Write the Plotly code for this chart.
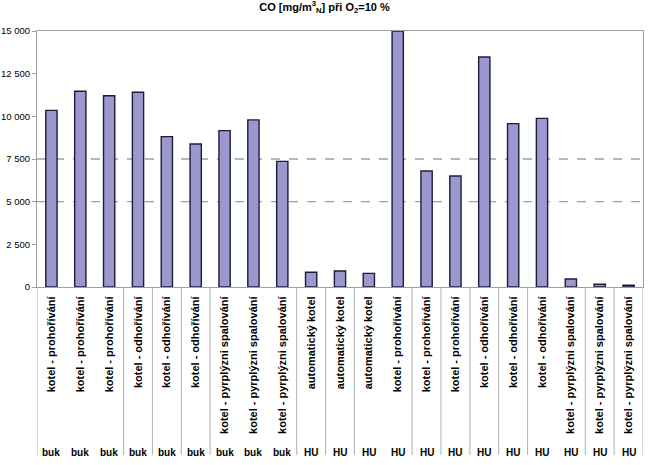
import plotly.graph_objects as go

categories = [
    "kotel - prohořívání", "kotel - prohořívání", "kotel - prohořívání",
    "kotel - odhořívání", "kotel - odhořívání", "kotel - odhořívání",
    "kotel - pyrplýzni spalování", "kotel - pyrplýzni spalování", "kotel - pyrplýzni spalování",
    "automatický kotel", "automatický kotel", "automatický kotel",
    "kotel - prohořívání", "kotel - prohořívání", "kotel - prohořívání",
    "kotel - odhořívání", "kotel - odhořívání", "kotel - odhořívání",
    "kotel - pyrplýzni spalování", "kotel - pyrplýzni spalování", "kotel - pyrplýzni spalování",
]
fuel = ["buk"] * 9 + ["HU"] * 12
co_values = [10350, 11470, 11210, 11410, 8810, 8380, 9160, 9790, 7360,
             860, 940, 800, 15000, 6800, 6500, 13480, 9570, 9880, 470, 160, 100]
y_ticks = [0, 2500, 5000, 7500, 10000, 12500, 15000]
y_tick_text = ["0", "2 500", "5 000", "7 500", "10 000", "12 500", "15 000"]
dashed_levels = [5000, 7500]
separator_after = [0, 3, 4, 5, 6, 9, 10, 11, 13, 14, 15, 16, 17, 19, 20, 21]

x = list(range(len(categories)))
font = "Liberation Sans, Arial, sans-serif"

fig = go.Figure(go.Bar(
    x=x, y=co_values, width=0.39,
    marker=dict(color="#9b98d0", line=dict(color="#1c1c3a", width=1.4)),
    cliponaxis=False,
))

for lvl in dashed_levels:
    fig.add_shape(type="line", xref="paper", yref="y", x0=0, x1=1, y0=lvl, y1=lvl,
                  line=dict(color="#a0a0a0", width=1.3, dash="dash"), layer="below")

for k in separator_after:
    fig.add_shape(type="line", xref="x", yref="paper", x0=k - 0.5, x1=k - 0.5,
                  y0=0, y1=-0.656, line=dict(color="#b0b0b0", width=1))

for i, f in enumerate(fuel):
    fig.add_annotation(x=i, y=-0.645, xref="x", yref="paper", text="<b>%s</b>" % f,
                       showarrow=False, yanchor="middle",
                       font=dict(family=font, size=10, color="#000"))

fig.update_layout(
    width=649, height=465,
    margin=dict(l=37, r=6, t=31, b=178),
    paper_bgcolor="white", plot_bgcolor="white",
    showlegend=False,
    title=dict(text="<b>CO [mg/m<sup>3</sup><sub>N</sub>] při O<sub>2</sub>=10 %</b>",
               x=0.5, xanchor="center", y=0.993, yanchor="top",
               font=dict(family=font, size=11, color="#000")),
    xaxis=dict(range=[-0.5, len(categories) - 0.5], tickvals=x,
               ticktext=["<b>%s</b>" % c for c in categories],
               tickangle=-90, ticks="", showgrid=False, automargin=False,
               ticklabelstandoff=4,
               showline=True, linecolor="#a0a0a0", linewidth=1, mirror=True,
               tickfont=dict(family=font, size=11, color="#000")),
    yaxis=dict(range=[0, 15000], tickvals=y_ticks, ticktext=y_tick_text,
               ticks="outside", ticklen=4, tickcolor="#a0a0a0", showgrid=False,
               automargin=False, ticklabelstandoff=0,
               showline=True, linecolor="#a0a0a0", linewidth=1, mirror=True,
               zeroline=False,
               tickfont=dict(family=font, size=9.5, color="#000")),
)

# remove the browser's default 8px page margin so the figure sits at (0, 0)
fig.write_html("out.html", config={"displayModeBar": False},
               post_script="document.body.style.margin='0';")
